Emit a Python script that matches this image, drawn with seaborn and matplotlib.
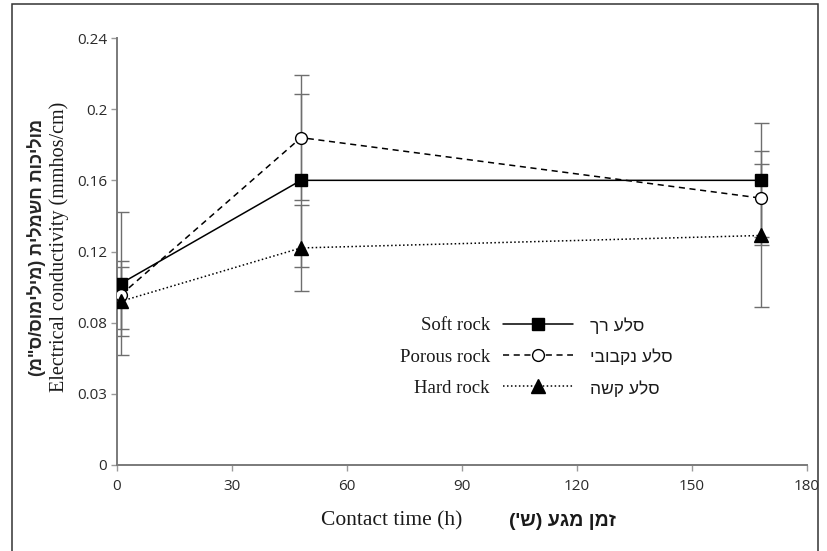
import numpy as np
import pandas as pd
import matplotlib
matplotlib.use("Agg")
import matplotlib.pyplot as plt
import seaborn as sns
from matplotlib.patches import Rectangle

# ---------------- data ----------------
contact_time = [1, 48, 168]
soft_rock = [0.102, 0.160, 0.160]
soft_err = [0.040, 0.0485, 0.032]
porous_rock = [0.0956, 0.184, 0.150]
porous_err = [0.019, 0.035, 0.0265]
hard_rock = [0.092, 0.122, 0.129]
hard_err = [0.0195, 0.0243, 0.0403]

series_en = ["Soft rock", "Porous rock", "Hard rock"]
series_he = ["סלע רך", "סלע נקבובי", "סלע קשה"]

x_ticks = [0, 30, 60, 90, 120, 150, 180]
y_ticks = [0, 0.04, 0.08, 0.12, 0.16, 0.20, 0.24]
y_tick_labels = ["0", "0.03", "0.08", "0.12", "0.16", "0.2", "0.24"]

xlabel_en = "Contact time (h)"
xlabel_he = "זמן מגע (ש')"
ylabel_en = "Electrical conductivity (mmhos/cm)"
ylabel_he = 'מוליכות חשמלית (מילימוס/ס"מ)'


def visual(s):
    """Convert logical-order Hebrew to visual (LTR glyph) order."""
    out = []
    for ch in reversed(s):
        if ch == "(":
            ch = ")"
        elif ch == ")":
            ch = "("
        out.append(ch)
    return "".join(out)


sns.set_theme(style="white")
plt.rcParams["font.family"] = ["Open Sans", "DejaVu Sans"]

W, H = 827, 551
fig = plt.figure(figsize=(W / 100, H / 100), dpi=100)
ax = fig.add_axes([117 / W, 1 - 465 / H, (807 - 117) / W, (465 - 38) / H])

df = pd.DataFrame({
    "t": contact_time * 3,
    "v": soft_rock + porous_rock + hard_rock,
    "e": soft_err + porous_err + hard_err,
    "s": [s for s in series_en for _ in contact_time],
})

styles = {
    "Soft rock": dict(marker="s", linestyle="-", mfc="black", ms=8),
    "Porous rock": dict(marker="o", linestyle=(0, (4, 3)), mfc="white", ms=8.5),
    "Hard rock": dict(marker="^", linestyle=(0, (1, 1.6)), mfc="black", ms=9.5),
}

# error bars first (grey, behind)
for name in series_en:
    sub = df[df.s == name]
    ax.errorbar(sub.t, sub.v, yerr=sub.e, fmt="none", ecolor="#6e6e6e",
                elinewidth=1.0, capsize=5.4, capthick=1.0, zorder=1)

for name in series_en:
    sub = df[df.s == name]
    st = styles[name]
    sns.lineplot(data=sub, x="t", y="v", ax=ax, color="black", lw=1.1,
                 marker=st["marker"], linestyle=st["linestyle"],
                 markerfacecolor=st["mfc"], markeredgecolor="black",
                 markeredgewidth=1.0, markersize=st["ms"], label=name,
                 zorder=3)

ax.set_xlim(0, 180)
ax.set_ylim(0, 0.24)
ax.set_xticks(x_ticks)
ax.set_xticklabels([str(v) for v in x_ticks])
ax.set_yticks(y_ticks)
ax.set_yticklabels(y_tick_labels)
ax.set_xlabel("")
ax.set_ylabel("")
for side in ["top", "right"]:
    ax.spines[side].set_visible(False)
for side in ["left", "bottom"]:
    ax.spines[side].set_color("#7a7a7a")
    ax.spines[side].set_linewidth(1.4)
ax.tick_params(axis="both", direction="out", length=4, width=1.0,
               color="#9a9a9a", labelsize=11, labelcolor="#2a2a2a",
               bottom=True, left=True)
ax.tick_params(axis="x", pad=6)
ax.tick_params(axis="y", pad=3)
for lab in ax.get_xticklabels() + ax.get_yticklabels():
    lab.set_family(["Open Sans", "DejaVu Sans"])

# legend: English text left of sample line
handles, labels = ax.get_legend_handles_labels()
leg = ax.legend(handles, labels, markerfirst=False, frameon=False,
                loc="center right", bbox_to_anchor=(573 / W, 1 - 357 / H),
                bbox_transform=fig.transFigure, borderpad=0, borderaxespad=0,
                handlelength=3.73, handletextpad=0.7, labelspacing=0.76,
                prop={"family": "Liberation Serif", "size": 13.5})
for t in leg.get_texts():
    t.set_color("#1a1a1a")

fig.canvas.draw()
renderer = fig.canvas.get_renderer()
for t, he in zip(leg.get_texts(), series_he):
    bb = t.get_window_extent(renderer)
    yc = (bb.y0 + bb.y1) / 2 / H
    fig.text(590 / W, yc, visual(he), ha="left", va="center",
             family=["Liberation Sans", "DejaVu Sans"], fontsize=12.5,
             color="#1a1a1a")

# axis labels
fig.text(392 / W, 1 - 521 / H, xlabel_en, ha="center", va="center",
         family="Liberation Serif", fontsize=15.5, color="#1a1a1a")
fig.text(562 / W, 1 - 521 / H, visual(xlabel_he), ha="center", va="center",
         family=["Liberation Sans", "DejaVu Sans"], fontsize=14,
         fontweight="bold", color="#1a1a1a")
fig.text(59 / W, 1 - 247 / H, ylabel_en, ha="center", va="center",
         rotation=90, family="Liberation Serif", fontsize=14.5,
         color="#1a1a1a")
fig.text(37 / W, 1 - 247 / H, visual(ylabel_he), ha="center", va="center",
         rotation=90, family=["Liberation Sans", "DejaVu Sans"], fontsize=13,
         fontweight="bold", color="#262626")

# frame around figure
fig.patches.append(Rectangle((11.5 / W, -0.1), (817.5 - 11.5) / W,
                             1.1 - 3.5 / H, transform=fig.transFigure,
                             fill=False, edgecolor="#333333", linewidth=1.1))

fig.savefig("out.png", dpi=100)
